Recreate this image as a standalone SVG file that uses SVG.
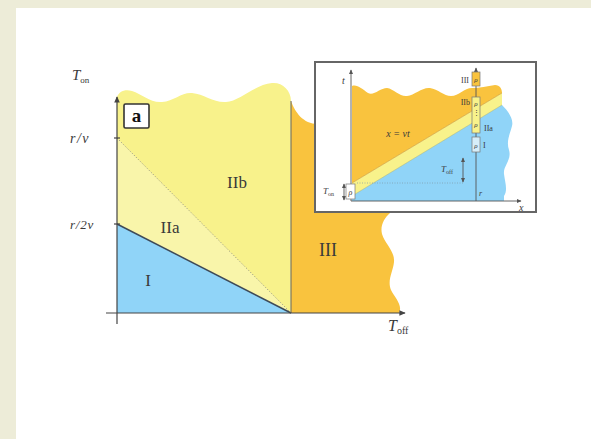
<svg xmlns="http://www.w3.org/2000/svg" width="591" height="439" viewBox="0 0 591 439">
<defs>
<style>
.lbl{font-family:"Liberation Serif",serif;fill:#3a3a3a}
.it{font-style:italic}
.ax{stroke:#444;stroke-width:1.2;fill:none}
.axs{stroke:#555;stroke-width:0.9;fill:none}
.yel{fill:#f8f28b}
.yel2{fill:#f9f5aa}
.org{fill:#f9c33e}
.blu{fill:#90d4f8}
.box{stroke:#777;stroke-width:0.7}
</style>
<marker id="ah" viewBox="0 0 10 10" refX="8" refY="5" markerWidth="7" markerHeight="7" markerUnits="userSpaceOnUse" orient="auto-start-reverse">
<path d="M0,1 L9,5 L0,9 Z" fill="#444"/>
</marker>
<marker id="ahs" viewBox="0 0 10 10" refX="8" refY="5" markerWidth="5" markerHeight="5" markerUnits="userSpaceOnUse" orient="auto-start-reverse">
<path d="M0,1 L9,5 L0,9 Z" fill="#555"/>
</marker>
</defs>
<rect x="0" y="0" width="591" height="439" fill="#edecd8"/>
<rect x="16" y="8" width="575" height="431" fill="#ffffff"/>

<g id="main-regions">
<path id="region-IIb" class="yel" d="M117,313 L117,97 C119,92 124,89 132,91 C142,94 150,103 162,102 C174,101 182,92 192,93 C204,94 214,103 226,102 C240,101 256,84 272,83 C282,82 291,90 291,101 L291,313 Z"/>
<path id="region-IIa" class="yel2" d="M117,138 L291,313 L117,224 Z"/>
<path id="region-I" class="blu" d="M117,224 L291,313 L117,313 Z"/>
<path id="region-III" class="org" d="M291,101 C295,112 303,124 318,124 L390,124 L390,213 C384,218 380,226 382,234 C385,244 395,251 394,262 C393,272 387,280 391,290 C395,298 403,305 399,313 L291,313 Z"/>
</g>

<g id="main-lines">
<line x1="117" y1="224" x2="291" y2="313" stroke="#3e4a58" stroke-width="1.5"/>
<line x1="117" y1="138" x2="291" y2="313" stroke="#777" stroke-width="0.7" stroke-dasharray="1.2 1.8"/>
<line x1="291" y1="101" x2="291" y2="313" stroke="#666" stroke-width="1"/>
<line class="ax" x1="117" y1="324" x2="117" y2="97" marker-end="url(#ah)"/>
<line class="ax" x1="106" y1="313" x2="405" y2="313" marker-end="url(#ah)"/>
<line class="ax" x1="114" y1="138" x2="120" y2="138"/>
<line class="ax" x1="114" y1="224" x2="120" y2="224"/>
</g>

<g id="main-labels">
<text class="lbl it" x="72" y="80" font-size="15">T<tspan font-size="9" dy="3" font-style="normal">on</tspan></text>
<text class="lbl it" x="70" y="143" font-size="14" letter-spacing="1.5">r/v</text>
<text class="lbl it" x="70" y="229" font-size="13" letter-spacing="0.8">r/2v</text>
<text class="lbl it" x="388" y="331" font-size="16">T<tspan font-size="10" dy="3" font-style="normal">off</tspan></text>
<text class="lbl" x="237" y="188" font-size="17" text-anchor="middle">IIb</text>
<text class="lbl" x="170" y="233" font-size="17" text-anchor="middle">IIa</text>
<text class="lbl" x="148" y="286" font-size="17" text-anchor="middle">I</text>
<text class="lbl" x="328" y="256" font-size="18" text-anchor="middle">III</text>
</g>

<g id="panel-a-label">
<rect x="124" y="104" width="25" height="24" rx="1.5" fill="#fff" stroke="#333" stroke-width="1.6"/>
<text x="136.5" y="122" font-family="Liberation Serif,serif" font-weight="bold" font-size="19" text-anchor="middle" fill="#111">a</text>
</g>

<g id="inset">
<rect x="315" y="62" width="221" height="150" fill="#fff" stroke="#666" stroke-width="2"/>
<path class="org" d="M352,183 L352,86 C357,84 362,89 368,93 C374,96 380,88 387,88 C394,89 400,97 407,96 C415,95 422,87 430,88 C438,89 444,96 451,96 C459,96 464,88 472,88 C480,88 487,86 495,85 C500,85 502,89 502,93 Z"/>
<path class="yel" d="M352,183 L502,93 L502,105 L352,196 Z"/>
<path class="blu" d="M352,196 L502,105 C507,110 514,118 512,126 C510,134 506,141 509,150 C512,160 503,166 504,174 C505,182 508,190 504,196 L504,201 L352,201 Z"/>
<line x1="352" y1="183" x2="502" y2="93" stroke="#c9962e" stroke-width="0.6"/>
<line x1="352" y1="196" x2="502" y2="105" stroke="#a8b060" stroke-width="0.5"/>
<line x1="357" y1="183" x2="463" y2="183" stroke="#7f9aa8" stroke-width="0.7" stroke-dasharray="1 1.5"/>
<line class="axs" x1="351" y1="201" x2="351" y2="70" marker-end="url(#ahs)"/>
<line class="axs" x1="351" y1="201" x2="521" y2="201" marker-end="url(#ahs)"/>
<line class="axs" x1="476" y1="201" x2="476" y2="68" marker-end="url(#ahs)"/>
<line class="axs" x1="463" y1="158" x2="463" y2="182" stroke-width="0.7" marker-start="url(#ahs)" marker-end="url(#ahs)"/>
<line class="axs" x1="344" y1="184" x2="344" y2="200" stroke-width="0.7" marker-start="url(#ahs)" marker-end="url(#ahs)"/>
<rect class="box" x="346" y="184" width="9" height="15" fill="#fff"/>
<rect class="box org" x="472" y="72" width="8" height="14"/>
<rect class="box yel" x="472" y="97" width="8" height="36"/>
<rect class="box" x="472" y="137" width="8" height="15" fill="#d6eef9"/>
<text class="lbl it" x="350.5" y="195" font-size="8" text-anchor="middle">ρ</text>
<text class="lbl it" x="476" y="82" font-size="7" text-anchor="middle">ρ</text>
<text class="lbl it" x="476" y="106" font-size="7" text-anchor="middle">ρ</text>
<text class="lbl" x="476" y="115" font-size="7" text-anchor="middle">⋮</text>
<text class="lbl it" x="476" y="127" font-size="7" text-anchor="middle">ρ</text>
<text class="lbl it" x="476" y="148" font-size="7" text-anchor="middle">ρ</text>
<text class="lbl it" x="342" y="84" font-size="10">t</text>
<text class="lbl it" x="519" y="211" font-size="10">x</text>
<text class="lbl it" x="479" y="196" font-size="8">r</text>
<text class="lbl it" x="398" y="137" font-size="10" text-anchor="middle">x = vt</text>
<text class="lbl it" x="441" y="172" font-size="9">T<tspan font-size="6" dy="2" font-style="normal">off</tspan></text>
<text class="lbl it" x="323" y="194" font-size="9">T<tspan font-size="6" dy="2" font-style="normal">on</tspan></text>
<text class="lbl" x="469" y="83" font-size="8" text-anchor="end">III</text>
<text class="lbl" x="470" y="105" font-size="8" text-anchor="end">IIb</text>
<text class="lbl" x="484" y="131" font-size="8">IIa</text>
<text class="lbl" x="483" y="148" font-size="8">I</text>
</g>
</svg>
